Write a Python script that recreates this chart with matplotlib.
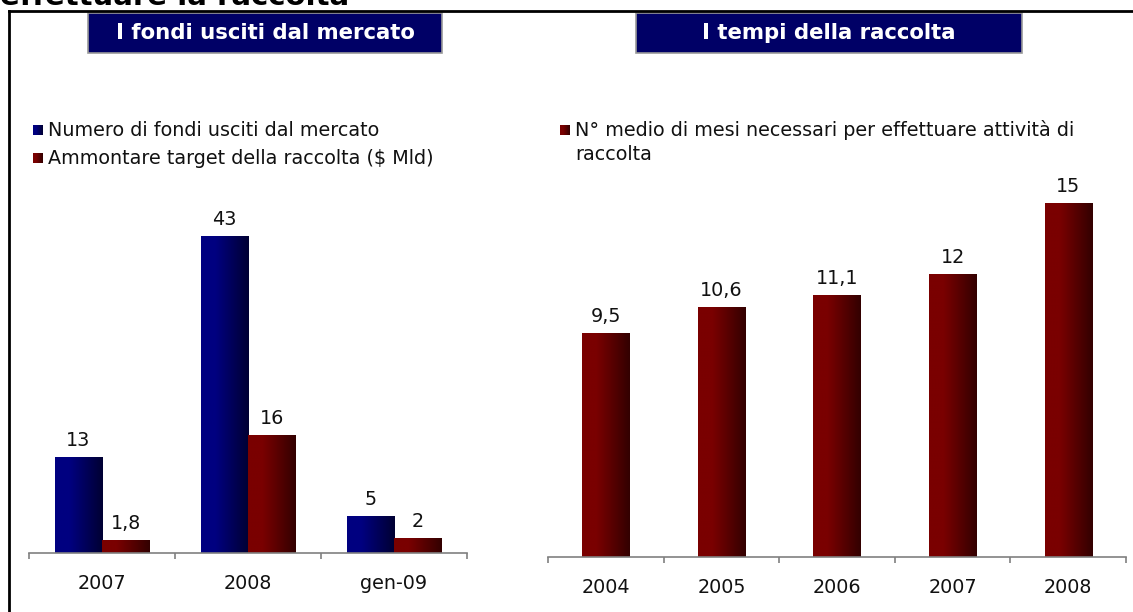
# -*- coding: utf-8 -*-
# fondi usciti dal mercato / tempi della raccolta

import numpy as np
import matplotlib
matplotlib.use("Agg")
import matplotlib.pyplot as plt
from matplotlib.patches import Rectangle
from matplotlib.lines import Line2D

plt.rcParams['font.family'] = ['DejaVu Sans']

# data
left_categories = ["2007", "2008", "gen-09"]
fondi_usciti = [13, 43, 5]
target_raccolta = [1.8, 16, 2]
left_series = ["Numero di fondi usciti dal mercato",
               "Ammontare target della raccolta ($ Mld)"]

right_categories = ["2004", "2005", "2006", "2007", "2008"]
mesi_raccolta = [9.5, 10.6, 11.1, 12, 15]
right_series = ["N° medio di mesi necessari per effettuare attività di",
                "raccolta"]

W, H = 1133, 612
fig = plt.figure(figsize=(W / 100, H / 100), dpi=100)

FS = 13.8   # body text size
TXT = "#111111"


def fx(px):
    return px / W


def fy(py):
    return 1 - py / H


blue_grad = ("#000080", "#000033")
red_grad = ("#7a0000", "#330000")


def grad_img(c0, c1):
    a = np.array(matplotlib.colors.to_rgb(c0))
    b = np.array(matplotlib.colors.to_rgb(c1))
    t = np.linspace(0, 1, 64)
    t = np.clip((t - 0.3) / 0.7, 0, 1)
    row = a[None, :] * (1 - t[:, None]) + b[None, :] * t[:, None]
    return row[None, :, :]


def gradient_bars(ax, bars, colors):
    img = grad_img(*colors)
    for b in bars:
        x, y = b.get_x(), b.get_y()
        w, h = b.get_width(), b.get_height()
        b.set_facecolor("none")
        b.set_edgecolor("none")
        im = ax.imshow(img, extent=[x, x + w, y, y + h], aspect="auto",
                       interpolation="bilinear", zorder=2)
        im.set_clip_path(b)


def fmt(v):
    return f"{v:g}".replace(".", ",")


def style_axis(ax, n):
    ax.set_xlim(-0.5, n - 0.5)
    for s in ["top", "right", "left"]:
        ax.spines[s].set_visible(False)
    ax.spines["bottom"].set_color("#808080")
    ax.spines["bottom"].set_linewidth(1.2)
    ax.set_yticks([])
    ax.set_xticks(range(n))
    ax.set_xticks(np.arange(-0.5, n, 1.0), minor=True)
    ax.tick_params(axis="x", which="major", length=0, pad=15, labelsize=FS,
                   labelcolor=TXT)
    ax.tick_params(axis="x", which="minor", length=4, width=1.2,
                   color="#808080", direction="out")
    ax.patch.set_alpha(0)


# outer frame and cut-off heading
fig.add_artist(Line2D([fx(9), 1], [fy(11), fy(11)], color="black", lw=2))
fig.add_artist(Line2D([fx(9), fx(9)], [fy(11), 0], color="black", lw=2))
fig.text(fx(0), fy(5), "effettuare la raccolta", fontsize=21,
         fontweight="bold", va="baseline", ha="left")

# title boxes
for x0, x1, title in [(88, 442, "I fondi usciti dal mercato"),
                      (636, 1022, "I tempi della raccolta")]:
    fig.add_artist(Rectangle((fx(x0), fy(53)), fx(x1 - x0), (53 - 13) / H,
                             transform=fig.transFigure, facecolor="#000066",
                             edgecolor="#9a9a9a", lw=1.2))
    fig.text(fx((x0 + x1) / 2), fy(33), title, color="white", fontsize=15.3,
             fontweight="bold", ha="center", va="center")

# left chart
axl = fig.add_axes([fx(29), fy(553), fx(467 - 29), (553 - 200) / H])
xl = np.arange(len(left_categories))
bw = 0.325
b1 = axl.bar(xl - bw / 2, fondi_usciti, bw)
b2 = axl.bar(xl + bw / 2, target_raccolta, bw)
gradient_bars(axl, b1, blue_grad)
gradient_bars(axl, b2, red_grad)
axl.set_ylim(0, 47.9)
style_axis(axl, len(left_categories))
axl.set_xticklabels(left_categories)
for bars, vals in [(b1, fondi_usciti), (b2, target_raccolta)]:
    for b, v in zip(bars, vals):
        axl.annotate(fmt(v), (b.get_x() + b.get_width() / 2, v),
                     xytext=(0, 5), textcoords="offset points",
                     ha="center", va="bottom", fontsize=FS, color=TXT)

# right chart
axr = fig.add_axes([fx(548), fy(557), fx(1126 - 548), (557 - 200) / H])
xr = np.arange(len(right_categories))
b3 = axr.bar(xr, mesi_raccolta, 0.41)
gradient_bars(axr, b3, red_grad)
axr.set_ylim(0, 15.13)
style_axis(axr, len(right_categories))
axr.set_xticklabels(right_categories)
for b, v in zip(b3, mesi_raccolta):
    axr.annotate(fmt(v), (b.get_x() + b.get_width() / 2, v),
                 xytext=(0, 5), textcoords="offset points",
                 ha="center", va="bottom", fontsize=FS, color=TXT)


# legends
def legend_square(x, y, colors):
    img = grad_img(*colors)
    ax = fig.add_axes([fx(x), fy(y + 10), fx(10), 10 / H])
    ax.imshow(img, aspect="auto", extent=[0, 1, 0, 1])
    ax.axis("off")


legend_square(33, 125, blue_grad)
fig.text(fx(48), fy(130), left_series[0], fontsize=FS, va="center", color=TXT)
legend_square(33, 153, red_grad)
fig.text(fx(48), fy(158), left_series[1], fontsize=FS, va="center", color=TXT)
legend_square(560, 125, red_grad)
fig.text(fx(575), fy(130), right_series[0], fontsize=FS, va="center", color=TXT)
fig.text(fx(575), fy(154), right_series[1], fontsize=FS, va="center", color=TXT)

fig.savefig("out.png", dpi=100)
